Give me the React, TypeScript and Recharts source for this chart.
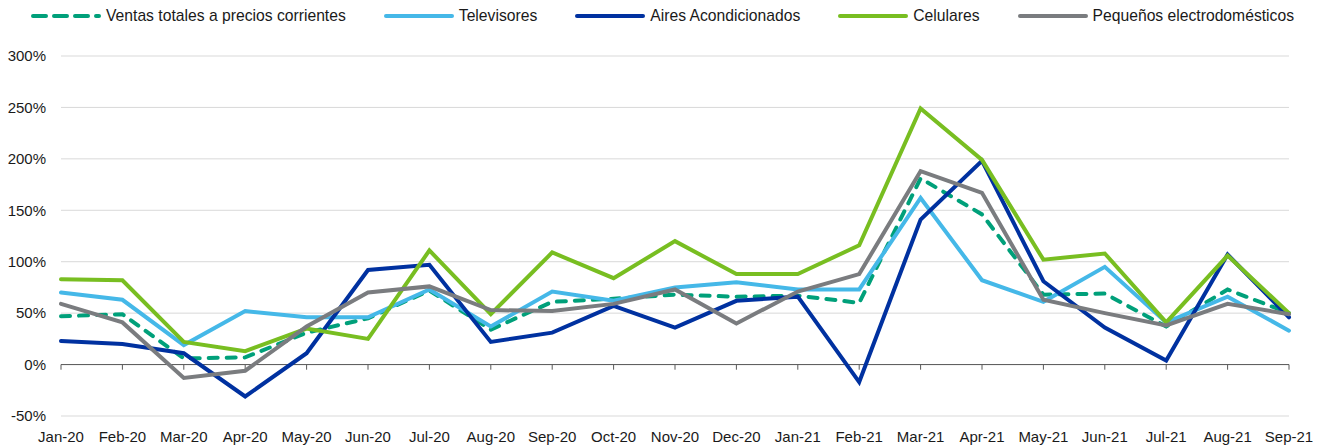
import { LineChart, Line, XAxis, YAxis, CartesianGrid, Legend, ReferenceLine } from 'recharts';

const months = [
  'Jan-20', 'Feb-20', 'Mar-20', 'Apr-20', 'May-20', 'Jun-20', 'Jul-20', 'Aug-20', 'Sep-20', 'Oct-20', 'Nov-20',
  'Dec-20', 'Jan-21', 'Feb-21', 'Mar-21', 'Apr-21', 'May-21', 'Jun-21', 'Jul-21', 'Aug-21', 'Sep-21',
];
const ventas = [47, 49, 6, 7, 31, 45, 72, 34, 61, 64, 68, 66, 67, 60, 181, 146, 68, 69, 37, 73, 50];
const televisores = [70, 63, 19, 52, 46, 46, 73, 37, 71, 62, 75, 80, 73, 73, 162, 82, 61, 95, 41, 66, 33];
const aires = [23, 20, 11, -31, 11, 92, 97, 22, 31, 57, 36, 62, 66, -17, 141, 198, 81, 36, 4, 107, 46];
const celulares = [83, 82, 22, 13, 35, 25, 111, 49, 109, 84, 120, 88, 88, 116, 249, 199, 102, 108, 41, 106, 50];
const pequenos = [59, 41, -13, -6, 37, 70, 76, 53, 52, 59, 73, 40, 71, 88, 188, 167, 63, 50, 38, 59, 49];
const yTicks = [-50, 0, 50, 100, 150, 200, 250, 300];

const series = [
  { key: 'ventas', name: 'Ventas totales a precios corrientes', color: '#00A07A', dash: '9 9', legendDash: '13 8' },
  { key: 'televisores', name: 'Televisores', color: '#45B8E8' },
  { key: 'aires', name: 'Aires Acondicionados', color: '#0031A0' },
  { key: 'celulares', name: 'Celulares', color: '#78BE21' },
  { key: 'pequenos', name: 'Pequeños electrodomésticos', color: '#7A7C7F' },
];

const data = months.map((m, i) => ({
  month: m,
  ventas: ventas[i],
  televisores: televisores[i],
  aires: aires[i],
  celulares: celulares[i],
  pequenos: pequenos[i],
}));

const FONT = "'Liberation Sans', Arial, sans-serif";

// legend drawn by hand so the long line icons match the original
function LegendRow() {
  return (
    <div style={{ display: 'flex', justifyContent: 'center', alignItems: 'center', height: 32, gap: 38, fontFamily: FONT, fontSize: 15.7, color: '#1a1a1a' }}>
      {series.map((s) => (
        <div key={s.key} style={{ display: 'flex', alignItems: 'center' }}>
          <svg width={70} height={8} style={{ marginRight: 5 }}>
            <line x1={2} y1={4} x2={68} y2={4} stroke={s.color} strokeWidth={4} strokeLinecap="round" strokeDasharray={s.legendDash} />
          </svg>
          <span>{s.name}</span>
        </div>
      ))}
    </div>
  );
}

export default function App() {
  return (
    <div style={{ width: 1325, height: 448 }}>
      <style>{'body{margin:0}'}</style>
      <LineChart width={1325} height={448} data={data} margin={{ top: 24, right: 36, left: 0, bottom: 0 }}>
        <CartesianGrid vertical={false} stroke="#D9D9D9" />
        <XAxis
          dataKey="month"
          axisLine={false}
          tickLine={false}
          tickSize={0}
          tickMargin={15}
          height={32}
          interval={0}
          tick={{ fontSize: 15, fill: '#1a1a1a', fontFamily: FONT }}
        />
        <YAxis
          domain={[-50, 300]}
          ticks={yTicks}
          axisLine={false}
          tickLine={false}
          tickSize={0}
          tickMargin={15}
          width={61}
          tickFormatter={(v) => `${v}%`}
          tick={{ fontSize: 15, fill: '#1a1a1a', fontFamily: FONT }}
        />
        <ReferenceLine y={0} stroke="#595959" />
        {months.map((m) => (
          <ReferenceLine key={m} segment={[{ x: m, y: 0 }, { x: m, y: -5 }]} stroke="#595959" />
        ))}
        <Legend verticalAlign="top" wrapperStyle={{ top: 0, left: 0, width: 1325 }} content={() => <LegendRow />} />
        {series.map((s) => (
          <Line
            key={s.key}
            dataKey={s.key}
            name={s.name}
            stroke={s.color}
            strokeWidth={4}
            strokeDasharray={s.dash}
            strokeLinecap="round"
            dot={false}
            activeDot={false}
            isAnimationActive={false}
          />
        ))}
      </LineChart>
    </div>
  );
}
